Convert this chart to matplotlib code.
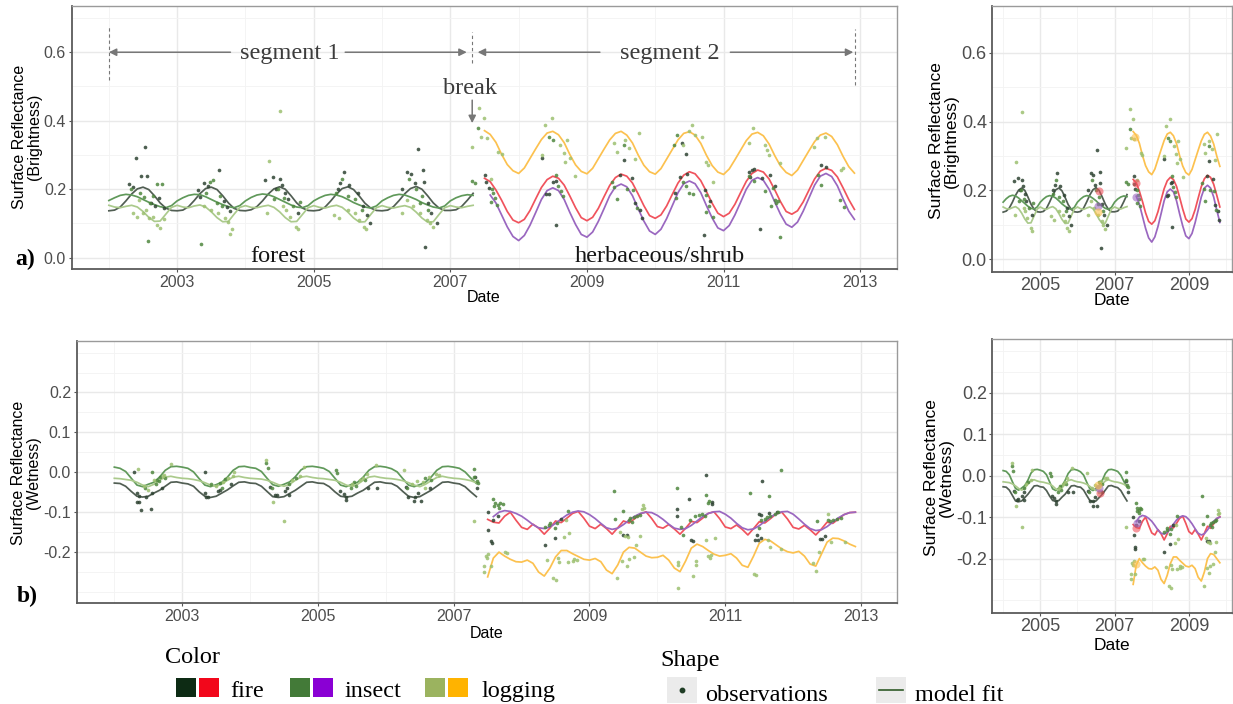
import numpy as np
import matplotlib
matplotlib.use("Agg")
import matplotlib.pyplot as plt
from matplotlib.patches import Rectangle
from matplotlib.lines import Line2D

# ------------------------------------------------------------------ data
SEG1_START = 2002.0          # first fitted date, segment 1 (monthly grid)
SEG2_START = 2007.5          # first fitted date, segment 2 (monthly grid)
BREAK_DATE = 2007.32
SEG2_END = 2012.92
INSET_START, INSET_END = 2004.0, 2009.9

# ---- Brightness, segment 1 (forest) : monthly model fit, Jan 2002 .. May 2007
FIRE_BRIGHT_1 = [
    0.137, 0.139, 0.148, 0.166, 0.186, 0.201, 0.206, 0.199, 0.181, 0.160, 0.145, 0.138,
    0.137, 0.139, 0.149, 0.167, 0.187, 0.202, 0.206, 0.199, 0.181, 0.160, 0.144, 0.138,
    0.137, 0.140, 0.149, 0.166, 0.186, 0.201, 0.207, 0.200, 0.181, 0.160, 0.145, 0.138,
    0.137, 0.139, 0.148, 0.166, 0.186, 0.202, 0.207, 0.199, 0.180, 0.159, 0.145, 0.138,
    0.137, 0.139, 0.149, 0.167, 0.187, 0.202, 0.208, 0.200, 0.181, 0.160, 0.145, 0.138,
    0.138, 0.140, 0.150, 0.168, 0.188]
INSECT_BRIGHT_1 = [
    0.167, 0.175, 0.182, 0.185, 0.183, 0.178, 0.170, 0.162, 0.155, 0.149, 0.146, 0.152,
    0.166, 0.175, 0.182, 0.185, 0.184, 0.178, 0.170, 0.162, 0.155, 0.149, 0.146, 0.152,
    0.166, 0.176, 0.183, 0.186, 0.184, 0.178, 0.170, 0.162, 0.154, 0.148, 0.146, 0.152,
    0.166, 0.175, 0.182, 0.185, 0.183, 0.178, 0.170, 0.161, 0.154, 0.148, 0.145, 0.151,
    0.166, 0.175, 0.182, 0.185, 0.183, 0.177, 0.170, 0.161, 0.154, 0.148, 0.145, 0.151,
    0.166, 0.175, 0.181, 0.184, 0.182]
LOGGING_BRIGHT_1 = [
    0.153, 0.148, 0.146, 0.150, 0.153, 0.148, 0.135, 0.118, 0.106, 0.107, 0.127, 0.147,
    0.153, 0.148, 0.146, 0.151, 0.154, 0.148, 0.134, 0.117, 0.105, 0.106, 0.127, 0.147,
    0.152, 0.147, 0.146, 0.150, 0.153, 0.147, 0.134, 0.117, 0.105, 0.106, 0.126, 0.146,
    0.152, 0.147, 0.145, 0.150, 0.153, 0.147, 0.133, 0.116, 0.104, 0.105, 0.126, 0.146,
    0.152, 0.147, 0.145, 0.149, 0.152, 0.147, 0.133, 0.116, 0.104, 0.105, 0.126, 0.146,
    0.152, 0.148, 0.146, 0.150, 0.153]

# ---- Brightness, segment 2 (herbaceous/shrub) : monthly model fit, Jul 2007 .. Dec 2012
FIRE_BRIGHT_2 = [
    0.232, 0.222, 0.198, 0.168, 0.135, 0.110,
    0.102, 0.112, 0.138, 0.172, 0.205, 0.228, 0.238, 0.232, 0.212, 0.180, 0.146, 0.117,
    0.108, 0.118, 0.144, 0.178, 0.211, 0.234, 0.244, 0.238, 0.218, 0.186, 0.152, 0.123,
    0.115, 0.125, 0.151, 0.185, 0.218, 0.241, 0.251, 0.245, 0.225, 0.193, 0.159, 0.130,
    0.120, 0.130, 0.156, 0.190, 0.223, 0.246, 0.256, 0.250, 0.230, 0.198, 0.164, 0.135,
    0.127, 0.137, 0.163, 0.197, 0.230, 0.253, 0.261, 0.255, 0.236, 0.204, 0.170, 0.141]
INSECT_BRIGHT_2 = [
    np.nan, 0.183, 0.160, 0.125, 0.090, 0.062,
    0.050, 0.065, 0.095, 0.132, 0.170, 0.196, 0.204, 0.196, 0.170, 0.132, 0.097, 0.068,
    0.060, 0.075, 0.106, 0.143, 0.181, 0.207, 0.215, 0.207, 0.181, 0.143, 0.107, 0.078,
    0.068, 0.083, 0.114, 0.152, 0.190, 0.216, 0.224, 0.216, 0.190, 0.152, 0.116, 0.087,
    0.079, 0.094, 0.125, 0.162, 0.200, 0.226, 0.234, 0.226, 0.200, 0.163, 0.127, 0.098,
    0.089, 0.104, 0.136, 0.174, 0.212, 0.238, 0.246, 0.237, 0.210, 0.172, 0.136, 0.112]
LOGGING_BRIGHT_2 = [
    0.371, 0.360, 0.337, 0.302, 0.272, 0.254,
    0.246, 0.262, 0.290, 0.318, 0.345, 0.364, 0.369, 0.359, 0.336, 0.301, 0.271, 0.252,
    0.245, 0.261, 0.289, 0.317, 0.344, 0.363, 0.369, 0.358, 0.335, 0.300, 0.270, 0.251,
    0.244, 0.260, 0.288, 0.316, 0.344, 0.363, 0.368, 0.358, 0.334, 0.299, 0.269, 0.250,
    0.243, 0.259, 0.286, 0.314, 0.342, 0.361, 0.366, 0.356, 0.332, 0.298, 0.268, 0.249,
    0.240, 0.256, 0.284, 0.312, 0.339, 0.358, 0.364, 0.354, 0.330, 0.296, 0.266, 0.247]

# ---- Wetness, segment 1
FIRE_WET_1 = [
    -0.027, -0.028, -0.035, -0.048, -0.060, -0.062, -0.060, -0.052, -0.045, -0.035, -0.025, -0.024,
    -0.027, -0.029, -0.035, -0.049, -0.060, -0.063, -0.060, -0.052, -0.044, -0.034, -0.025, -0.024,
    -0.027, -0.028, -0.035, -0.048, -0.061, -0.063, -0.061, -0.053, -0.045, -0.035, -0.025, -0.024,
    -0.027, -0.028, -0.036, -0.049, -0.060, -0.062, -0.060, -0.052, -0.045, -0.035, -0.025, -0.024,
    -0.027, -0.028, -0.035, -0.048, -0.060, -0.063, -0.061, -0.053, -0.045, -0.035, -0.025, -0.024,
    -0.027, -0.029, -0.036, -0.049, -0.061]
INSECT_WET_1 = [
    0.013, 0.010, 0.002, -0.015, -0.032, -0.036, -0.030, -0.025, -0.012, 0.005, 0.014, 0.015,
    0.013, 0.010, 0.001, -0.016, -0.032, -0.036, -0.031, -0.025, -0.012, 0.005, 0.014, 0.015,
    0.012, 0.010, 0.002, -0.015, -0.031, -0.035, -0.030, -0.024, -0.011, 0.006, 0.014, 0.015,
    0.013, 0.010, 0.002, -0.015, -0.032, -0.036, -0.030, -0.025, -0.012, 0.005, 0.014, 0.015,
    0.013, 0.009, 0.001, -0.016, -0.032, -0.036, -0.031, -0.025, -0.012, 0.005, 0.014, 0.015,
    0.013, 0.010, 0.001, -0.014, -0.028]
LOGGING_WET_1 = [
    -0.015, -0.016, -0.018, -0.020, -0.025, -0.032, -0.036, -0.030, -0.020, -0.012, -0.010, -0.013,
    -0.015, -0.016, -0.018, -0.021, -0.026, -0.032, -0.035, -0.029, -0.020, -0.012, -0.010, -0.013,
    -0.015, -0.016, -0.017, -0.020, -0.025, -0.031, -0.035, -0.030, -0.020, -0.012, -0.010, -0.013,
    -0.015, -0.016, -0.018, -0.020, -0.025, -0.032, -0.036, -0.030, -0.020, -0.012, -0.010, -0.013,
    -0.015, -0.016, -0.018, -0.021, -0.026, -0.032, -0.036, -0.030, -0.021, -0.013, -0.010, -0.013,
    -0.015, -0.016, -0.018, -0.021, -0.026]

# ---- Wetness, segment 2
FIRE_WET_2 = [
    -0.118, -0.125, -0.127, -0.110, -0.100, -0.120,
    -0.138, -0.143, -0.130, -0.140, -0.155, -0.140, -0.122, -0.126, -0.115, -0.103, -0.098, -0.115,
    -0.135, -0.141, -0.130, -0.141, -0.155, -0.139, -0.122, -0.127, -0.116, -0.104, -0.099, -0.116,
    -0.136, -0.140, -0.131, -0.142, -0.155, -0.140, -0.123, -0.126, -0.115, -0.103, -0.099, -0.116,
    -0.137, -0.141, -0.132, -0.143, -0.157, -0.141, -0.124, -0.127, -0.116, -0.104, -0.100, -0.117,
    -0.138, -0.142, -0.133, -0.144, -0.157, -0.142, -0.125, -0.128, -0.117, -0.106, -0.101, -0.100]
INSECT_WET_2 = [
    np.nan, -0.111, -0.100, -0.096, -0.098, -0.103,
    -0.110, -0.120, -0.131, -0.139, -0.141, -0.137, -0.128, -0.117, -0.107, -0.100, -0.097, -0.099,
    -0.106, -0.116, -0.128, -0.139, -0.143, -0.140, -0.131, -0.120, -0.110, -0.103, -0.100, -0.101,
    -0.108, -0.118, -0.130, -0.140, -0.143, -0.141, -0.133, -0.122, -0.111, -0.103, -0.099, -0.098,
    -0.105, -0.115, -0.128, -0.139, -0.144, -0.142, -0.134, -0.123, -0.112, -0.104, -0.099, -0.098,
    -0.105, -0.117, -0.130, -0.141, -0.146, -0.144, -0.136, -0.125, -0.114, -0.106, -0.101, -0.100]
LOGGING_WET_2 = [
    -0.262, -0.215, -0.200, -0.210, -0.218, -0.224,
    -0.225, -0.220, -0.228, -0.250, -0.260, -0.240, -0.212, -0.196, -0.196, -0.204, -0.211, -0.218,
    -0.220, -0.216, -0.224, -0.245, -0.254, -0.232, -0.200, -0.188, -0.190, -0.200, -0.210, -0.214,
    -0.213, -0.208, -0.220, -0.240, -0.249, -0.222, -0.190, -0.180, -0.186, -0.196, -0.205, -0.210,
    -0.208, -0.204, -0.215, -0.233, -0.238, -0.210, -0.178, -0.168, -0.172, -0.182, -0.192, -0.199,
    -0.202, -0.198, -0.210, -0.230, -0.235, -0.205, -0.175, -0.165, -0.166, -0.172, -0.180, -0.186]

# ---- observations (date, value)
OBS_BRIGHT_FIRE = [
    (2002.53, 0.322), (2002.39, 0.290), (2002.47, 0.240), (2002.56, 0.240), (2002.30, 0.214),
    (2002.74, 0.175), (2002.68, 0.151), (2002.80, 0.145), (2002.62, 0.160), (2002.35, 0.205),
    (2003.61, 0.256), (2003.40, 0.219), (2003.31, 0.198), (2003.34, 0.178), (2003.73, 0.149),
    (2003.68, 0.165), (2003.78, 0.135), (2003.45, 0.210),
    (2004.28, 0.227), (2004.40, 0.237), (2004.51, 0.229), (2004.53, 0.212), (2004.77, 0.130),
    (2004.58, 0.190), (2004.62, 0.170), (2004.45, 0.200),
    (2005.44, 0.251), (2005.39, 0.217), (2005.52, 0.212), (2005.65, 0.188), (2005.83, 0.100),
    (2005.72, 0.150), (2005.78, 0.125), (2005.35, 0.200),
    (2006.53, 0.317), (2006.60, 0.255), (2006.37, 0.251), (2006.42, 0.244), (2006.48, 0.217),
    (2006.62, 0.221), (2006.29, 0.200), (2006.80, 0.100), (2006.63, 0.032), (2006.72, 0.130),
    (2006.67, 0.160),
    (2007.51, 0.241), (2007.56, 0.204), (2007.52, 0.220),
    (2008.34, 0.290), (2008.51, 0.222), (2008.55, 0.225), (2008.44, 0.186), (2008.40, 0.185),
    (2008.54, 0.095),
    (2009.54, 0.285), (2009.48, 0.241), (2009.66, 0.232), (2009.70, 0.159), (2009.77, 0.140),
    (2009.80, 0.115),
    (2010.39, 0.334), (2010.45, 0.303), (2010.36, 0.237), (2010.46, 0.245), (2010.29, 0.188),
    (2010.73, 0.198), (2010.80, 0.165), (2010.72, 0.066),
    (2011.41, 0.256), (2011.45, 0.260), (2011.37, 0.250), (2011.39, 0.235), (2011.68, 0.241),
    (2011.57, 0.232), (2011.75, 0.210), (2011.54, 0.084),
    (2012.42, 0.271), (2012.50, 0.266)]
OBS_BRIGHT_INSECT = [
    (2002.70, 0.214), (2002.78, 0.214), (2002.51, 0.178), (2002.57, 0.050), (2002.45, 0.190),
    (2002.60, 0.160), (2002.65, 0.180), (2002.33, 0.200),
    (2003.48, 0.222), (2003.53, 0.227), (2003.62, 0.180), (2003.58, 0.160), (2003.66, 0.150),
    (2003.35, 0.040), (2003.42, 0.190),
    (2004.48, 0.200), (2004.80, 0.163), (2004.42, 0.170), (2004.56, 0.175), (2004.70, 0.150),
    (2005.42, 0.230), (2005.50, 0.180), (2005.60, 0.170), (2005.70, 0.140), (2005.33, 0.190),
    (2006.40, 0.230), (2006.50, 0.200), (2006.58, 0.180), (2006.68, 0.140), (2006.55, 0.160),
    (2007.32, 0.224), (2007.36, 0.219), (2007.41, 0.380), (2007.59, 0.163), (2007.63, 0.188),
    (2007.66, 0.175), (2007.61, 0.200), (2007.68, 0.155),
    (2008.55, 0.241), (2008.58, 0.210), (2008.62, 0.195), (2008.65, 0.180), (2008.45, 0.353),
    (2008.50, 0.345),
    (2009.54, 0.329), (2009.36, 0.222), (2009.40, 0.205), (2009.58, 0.200), (2009.68, 0.198),
    (2009.44, 0.170), (2009.73, 0.144),
    (2010.32, 0.358), (2010.28, 0.330), (2010.40, 0.220), (2010.45, 0.210), (2010.31, 0.175),
    (2010.50, 0.190), (2010.55, 0.185), (2010.75, 0.183), (2010.75, 0.134), (2010.78, 0.150),
    (2010.85, 0.120),
    (2011.38, 0.240), (2011.45, 0.225), (2011.60, 0.195), (2011.72, 0.203), (2011.75, 0.168),
    (2011.77, 0.160), (2011.70, 0.152), (2011.83, 0.061), (2011.80, 0.165),
    (2012.39, 0.241), (2012.42, 0.212), (2012.71, 0.168), (2012.77, 0.149)]
OBS_BRIGHT_LOGGING = [
    (2002.41, 0.120), (2002.50, 0.130), (2002.59, 0.115), (2002.64, 0.118), (2002.70, 0.096),
    (2002.75, 0.088), (2002.80, 0.112), (2002.44, 0.168), (2002.36, 0.130), (2002.55, 0.140),
    (2003.60, 0.130), (2003.70, 0.115), (2003.75, 0.103), (2003.80, 0.084), (2003.78, 0.068),
    (2003.50, 0.140), (2003.40, 0.150),
    (2004.50, 0.428), (2004.35, 0.282), (2004.31, 0.130), (2004.74, 0.090), (2004.77, 0.083),
    (2004.60, 0.140), (2004.65, 0.120), (2004.55, 0.150),
    (2005.29, 0.125), (2005.37, 0.115), (2005.73, 0.090), (2005.76, 0.083), (2005.60, 0.130),
    (2005.50, 0.140), (2005.66, 0.110),
    (2006.36, 0.168), (2006.29, 0.130), (2006.55, 0.130), (2006.66, 0.110), (2006.75, 0.089),
    (2006.70, 0.100), (2006.45, 0.150),
    (2007.31, 0.322), (2007.42, 0.436), (2007.49, 0.407), (2007.45, 0.353), (2007.53, 0.349),
    (2007.70, 0.310), (2007.75, 0.302), (2007.60, 0.230),
    (2008.49, 0.409), (2008.39, 0.387), (2008.61, 0.329), (2008.71, 0.344), (2008.66, 0.305),
    (2008.68, 0.280), (2008.75, 0.290), (2008.83, 0.239), (2008.34, 0.300),
    (2009.40, 0.336), (2009.55, 0.344), (2009.76, 0.363), (2009.44, 0.310), (2009.70, 0.288),
    (2009.62, 0.320),
    (2010.54, 0.387), (2010.58, 0.358), (2010.68, 0.353), (2010.40, 0.330), (2010.75, 0.280),
    (2010.77, 0.270), (2010.85, 0.222), (2010.50, 0.370),
    (2011.43, 0.380), (2011.61, 0.329), (2011.66, 0.300), (2011.37, 0.336), (2011.83, 0.276),
    (2011.63, 0.315),
    (2012.37, 0.349), (2012.48, 0.353), (2012.32, 0.324), (2012.75, 0.261), (2012.72, 0.256)]

OBS_WET_FIRE = [
    (2002.29, 0.000), (2002.34, -0.053), (2002.36, -0.060), (2002.34, -0.075), (2002.37, -0.075),
    (2002.39, -0.094), (2002.47, -0.063), (2002.54, -0.091), (2002.56, -0.051), (2002.70, -0.040),
    (2003.34, 0.000), (2003.33, -0.053), (2003.35, -0.062), (2003.38, -0.062), (2003.52, -0.048),
    (2003.55, -0.045), (2003.72, -0.030),
    (2004.29, -0.038), (2004.36, -0.058), (2004.40, -0.057), (2004.52, -0.048), (2004.55, -0.040),
    (2004.57, -0.058),
    (2005.32, -0.048), (2005.38, -0.055), (2005.41, -0.069), (2005.42, -0.062), (2005.74, -0.040),
    (2005.87, -0.040),
    (2006.29, -0.036), (2006.33, -0.062), (2006.43, -0.061), (2006.41, -0.073), (2006.52, -0.073),
    (2006.47, -0.052), (2006.65, -0.040),
    (2007.35, -0.040), (2007.31, -0.012), (2007.50, -0.100), (2007.51, -0.144), (2007.55, -0.173),
    (2007.56, -0.178), (2007.58, -0.120), (2007.65, -0.110),
    (2008.34, -0.183), (2008.49, -0.165), (2008.58, -0.118),
    (2009.49, -0.157), (2009.55, -0.157),
    (2010.29, -0.092), (2010.29, -0.110), (2010.46, -0.067), (2010.50, -0.170), (2010.53, -0.171),
    (2010.71, -0.007), (2010.80, -0.075), (2010.81, -0.080),
    (2011.54, -0.023), (2011.44, -0.170), (2011.48, -0.170), (2011.52, -0.165), (2011.50, -0.105),
    (2011.52, -0.106), (2011.65, -0.103), (2011.76, -0.100), (2011.47, -0.157),
    (2012.40, -0.168), (2012.42, -0.168), (2012.47, -0.160)]
OBS_WET_INSECT = [
    (2002.56, 0.000), (2002.45, -0.040), (2002.63, -0.019), (2002.68, -0.012), (2002.61, -0.030),
    (2002.66, -0.022), (2002.75, -0.015),
    (2003.42, -0.030), (2003.56, -0.028), (2003.63, -0.018), (2003.58, -0.040),
    (2004.24, 0.023), (2004.27, 0.010), (2004.33, -0.040), (2004.57, -0.030), (2004.67, -0.015),
    (2005.26, 0.006), (2005.28, -0.002), (2005.48, -0.040), (2005.53, -0.025), (2005.69, -0.020),
    (2005.56, -0.035),
    (2006.31, -0.040), (2006.58, -0.015), (2006.66, -0.020),
    (2007.30, 0.008), (2007.30, -0.011), (2007.34, -0.022), (2007.36, -0.028), (2007.58, -0.067),
    (2007.61, -0.078), (2007.65, -0.082), (2007.68, -0.077), (2007.72, -0.080), (2007.60, -0.085),
    (2007.66, -0.090),
    (2008.34, -0.136), (2008.40, -0.132), (2008.42, -0.127), (2008.52, -0.128), (2008.49, -0.140),
    (2008.69, -0.097),
    (2009.36, -0.048), (2009.50, -0.098), (2009.38, -0.117), (2009.58, -0.120), (2009.60, -0.115),
    (2009.65, -0.113), (2009.70, -0.110), (2009.74, -0.108), (2009.63, -0.125),
    (2010.29, -0.040), (2010.35, -0.137), (2010.38, -0.156), (2010.48, -0.120), (2010.55, -0.110),
    (2010.61, -0.108), (2010.66, -0.105), (2010.70, -0.110), (2010.71, -0.057), (2010.74, -0.077),
    (2010.76, -0.073),
    (2011.37, -0.053), (2011.65, -0.059), (2011.82, 0.005), (2011.52, -0.120), (2011.58, -0.117),
    (2011.61, -0.113), (2011.66, -0.110), (2011.73, -0.105), (2011.77, -0.100), (2011.50, -0.140),
    (2012.35, -0.121), (2012.51, -0.120), (2012.55, -0.122), (2012.59, -0.120), (2012.64, -0.117),
    (2012.71, -0.115)]
OBS_WET_LOGGING = [
    (2002.35, 0.008), (2002.43, -0.035), (2002.71, -0.010), (2002.73, -0.007), (2002.83, 0.020),
    (2002.50, -0.045), (2002.58, -0.020),
    (2003.50, -0.035), (2003.60, -0.025), (2003.68, -0.015), (2003.76, 0.000), (2003.75, -0.010),
    (2004.24, 0.030), (2004.34, -0.074), (2004.50, -0.123), (2004.62, -0.020), (2004.74, -0.010),
    (2004.79, 0.014),
    (2005.50, -0.030), (2005.62, -0.020), (2005.67, -0.015), (2005.86, 0.018), (2005.72, -0.005),
    (2006.26, 0.006), (2006.38, -0.030), (2006.46, -0.022), (2006.54, -0.025), (2006.64, -0.012),
    (2006.74, -0.005), (2006.79, -0.007), (2006.57, -0.040),
    (2007.30, -0.123), (2007.47, -0.210), (2007.51, -0.205), (2007.49, -0.215), (2007.45, -0.236),
    (2007.55, -0.236), (2007.44, -0.250), (2007.76, -0.200), (2007.78, -0.202),
    (2008.38, -0.221), (2008.46, -0.265), (2008.51, -0.270), (2008.53, -0.215), (2008.55, -0.225),
    (2008.63, -0.162), (2008.70, -0.152), (2008.68, -0.225), (2008.75, -0.222), (2008.77, -0.217),
    (2008.82, -0.220), (2008.65, -0.120),
    (2009.41, -0.265), (2009.45, -0.150), (2009.52, -0.160), (2009.57, -0.162), (2009.79, -0.082),
    (2009.80, -0.090), (2009.78, -0.093), (2009.74, -0.160), (2009.69, -0.183), (2009.48, -0.222),
    (2009.58, -0.218), (2009.65, -0.213), (2009.55, -0.235),
    (2010.30, -0.225), (2010.31, -0.232), (2010.52, -0.259), (2010.57, -0.222), (2010.57, -0.232),
    (2010.72, -0.170), (2010.74, -0.210), (2010.79, -0.207), (2010.77, -0.215), (2010.85, -0.165),
    (2010.30, -0.290),
    (2011.63, -0.170), (2011.66, -0.187), (2011.82, -0.193), (2011.42, -0.255), (2011.46, -0.257),
    (2012.38, -0.200), (2012.29, -0.228), (2012.33, -0.248), (2012.56, -0.175), (2012.76, -0.175),
    (2012.52, -0.105)]

# highlighted observations in the zoomed panels: (date, value)
HILITE_BRIGHT = {"fire": [(2006.59, 0.198), (2007.58, 0.222)],
                 "insect": [(2006.54, 0.155), (2007.58, 0.181)],
                 "logging": [(2006.56, 0.136), (2007.55, 0.356)]}
HILITE_WET = {"fire": [(2006.60, -0.042), (2007.58, -0.126)],
              "insect": [(2006.58, -0.030), (2007.60, -0.114)],
              "logging": [(2006.56, -0.022), (2007.58, -0.212)]}

LEGEND_CLASSES = ["fire", "insect", "logging"]

# ------------------------------------------------------------------ style
W, H = 1233, 704
SANS = "Liberation Sans"
SERIF = "Liberation Serif"
TICK_COL = "#4d4d4d"
SEG1_COL = {"fire": "#515e53", "insect": "#60995a", "logging": "#abca8c"}
SEG2_COL = {"fire": "#f0535d", "insect": "#9a67c0", "logging": "#fcc14f"}
OBS_COL = {"fire": "#2e4332", "insect": "#4f873e", "logging": "#9cc070"}
KEY_COL = {"fire": ("#0d2b14", "#f2071b"), "insect": ("#437a38", "#8a00d4"),
           "logging": ("#9bb35f", "#ffb300")}
ANN_COL = "#3c3c3c"
ARROW_COL = "#777777"

fig = plt.figure(figsize=(W / 100, H / 100), dpi=100)


def rect(x0, y0, x1, y1):
    return [x0 / W, 1 - y1 / H, (x1 - x0) / W, (y1 - y0) / H]


def fx(px):
    return px / W


def fy(py):
    return 1 - py / H


def style_axes(ax, xlim, ylim, xticks, xgrid, yticks, ygrid, fs, pad=1.8):
    ax.set_xlim(*xlim)
    ax.set_ylim(*ylim)
    for g in xgrid:
        major = any(abs(g - t) < 1e-6 for t in xticks)
        ax.axvline(g, color="#e9e9e9" if major else "#f3f3f3",
                   lw=1.0 if major else 0.6, zorder=0)
    for g in ygrid:
        major = any(abs(g - t) < 1e-6 for t in yticks)
        ax.axhline(g, color="#e9e9e9" if major else "#f3f3f3",
                   lw=1.0 if major else 0.6, zorder=0)
    ax.set_xticks(xticks)
    ax.set_xticklabels([str(t) for t in xticks], fontfamily=SANS)
    ax.set_yticks(yticks)
    ax.set_yticklabels([f"{t:.1f}" for t in yticks], fontfamily=SANS)
    ax.tick_params(axis="both", length=2.5, width=0.8, color="#555555",
                   labelcolor=TICK_COL, labelsize=fs, pad=pad)
    for s in ("left", "bottom"):
        ax.spines[s].set_color("#5a5a5a")
        ax.spines[s].set_linewidth(1.3)
    for s in ("top", "right"):
        ax.spines[s].set_color("#9a9a9a")
        ax.spines[s].set_linewidth(1.0)


def draw_series(ax, seg1, seg2, obs, xmin=None, xmax=None, s=7):
    d1 = SEG1_START + np.arange(len(seg1["fire"])) / 12.0
    d2 = SEG2_START + np.arange(len(seg2["fire"])) / 12.0
    for cls in LEGEND_CLASSES:
        for d, v, col in ((d1, seg1[cls], SEG1_COL[cls]), (d2, seg2[cls], SEG2_COL[cls])):
            v = np.array(v, dtype=float)
            m = np.ones_like(d, dtype=bool)
            if xmin is not None:
                m &= (d >= xmin - 1e-9) & (d <= xmax + 1e-9)
            ax.plot(d[m], v[m], color=col, lw=1.25, zorder=2, solid_joinstyle="round")
    for cls in LEGEND_CLASSES:
        pts = np.array(obs[cls])
        m = np.ones(len(pts), dtype=bool)
        if xmin is not None:
            m &= (pts[:, 0] >= xmin - 0.05) & (pts[:, 0] <= xmax + 0.05)
        ax.scatter(pts[m, 0], pts[m, 1], s=s, color=OBS_COL[cls], alpha=0.85,
                   linewidths=0, zorder=3)


BRIGHT_1 = {"fire": FIRE_BRIGHT_1, "insect": INSECT_BRIGHT_1, "logging": LOGGING_BRIGHT_1}
BRIGHT_2 = {"fire": FIRE_BRIGHT_2, "insect": INSECT_BRIGHT_2, "logging": LOGGING_BRIGHT_2}
WET_1 = {"fire": FIRE_WET_1, "insect": INSECT_WET_1, "logging": LOGGING_WET_1}
WET_2 = {"fire": FIRE_WET_2, "insect": INSECT_WET_2, "logging": LOGGING_WET_2}
OBS_B = {"fire": OBS_BRIGHT_FIRE, "insect": OBS_BRIGHT_INSECT, "logging": OBS_BRIGHT_LOGGING}
OBS_W = {"fire": OBS_WET_FIRE, "insect": OBS_WET_INSECT, "logging": OBS_WET_LOGGING}

MAIN_XT = [2003, 2005, 2007, 2009, 2011, 2013]
MAIN_XG = list(range(2002, 2014))
INS_XT = [2005, 2007, 2009]
INS_XG = list(range(2004, 2011))
B_YT = [0.0, 0.2, 0.4, 0.6]
B_YG = [0.0, 0.1, 0.2, 0.3, 0.4, 0.5, 0.6, 0.7]
W_YT = [-0.2, -0.1, 0.0, 0.1, 0.2]
W_YG = [-0.3, -0.25, -0.2, -0.15, -0.1, -0.05, 0.0, 0.05, 0.1, 0.15, 0.2, 0.25, 0.3]

# ---------------- panel a (main)
axA = fig.add_axes(rect(72, 6, 897, 269))
style_axes(axA, (2001.46, 2013.54), (-0.033, 0.735), MAIN_XT, MAIN_XG, B_YT, B_YG, 11.5)
draw_series(axA, BRIGHT_1, BRIGHT_2, OBS_B)

# annotations
dash = dict(color=ARROW_COL, lw=0.8, ls=(0, (3, 2.5)), zorder=4)
axA.plot([SEG1_START, SEG1_START], [0.52, 0.68], **dash)
axA.plot([BREAK_DATE, BREAK_DATE], [0.568, 0.658], **dash)
axA.plot([SEG2_END, SEG2_END], [0.505, 0.667], **dash)
arw = dict(arrowstyle="-|>", color=ARROW_COL, lw=1.1, mutation_scale=11, shrinkA=0, shrinkB=0)
axA.annotate("", xy=(SEG1_START, 0.6), xytext=(2003.78, 0.6), arrowprops=arw)
axA.annotate("", xy=(2007.24, 0.6), xytext=(2005.46, 0.6), arrowprops=arw)
axA.annotate("", xy=(2007.40, 0.6), xytext=(2009.19, 0.6), arrowprops=arw)
axA.annotate("", xy=(2012.90, 0.6), xytext=(2011.10, 0.6), arrowprops=arw)
axA.annotate("", xy=(BREAK_DATE, 0.393), xytext=(BREAK_DATE, 0.46), arrowprops=arw)
tk = dict(fontfamily=SERIF, fontsize=17.5, ha="center", va="baseline", zorder=5)
axA.text(2004.65, 0.579, "segment 1", color=ANN_COL, **tk)
axA.text(2010.22, 0.579, "segment 2", color=ANN_COL, **tk)
axA.text(2007.29, 0.477, "break", color=ANN_COL, **tk)
axA.text(2004.48, -0.014, "forest", color="#151515", **tk)
axA.text(2010.07, -0.014, "herbaceous/shrub", color="#151515", **tk)

# ---------------- panel a (inset)
axA2 = fig.add_axes(rect(992, 6, 1232, 272))
style_axes(axA2, (2003.70, 2010.16), (-0.037, 0.736), INS_XT, INS_XG, B_YT, B_YG, 13, pad=1.2)
draw_series(axA2, BRIGHT_1, BRIGHT_2, OBS_B, INSET_START, INSET_END)
for cls in LEGEND_CLASSES:
    p = np.array(HILITE_BRIGHT[cls])
    axA2.scatter(p[:, 0], p[:, 1], s=34, color=SEG2_COL[cls], alpha=0.6, linewidths=0, zorder=4)

# ---------------- panel b (main)
axB = fig.add_axes(rect(77, 341, 897, 603))
style_axes(axB, (2001.45, 2013.53), (-0.3275, 0.329), MAIN_XT, MAIN_XG, W_YT, W_YG, 11.5)
draw_series(axB, WET_1, WET_2, OBS_W)

# ---------------- panel b (inset)
axB2 = fig.add_axes(rect(992, 339, 1232, 613))
style_axes(axB2, (2003.70, 2010.16), (-0.331, 0.329), INS_XT, INS_XG, W_YT, W_YG, 13, pad=1.2)
draw_series(axB2, WET_1, WET_2, OBS_W, INSET_START, INSET_END)
for cls in LEGEND_CLASSES:
    p = np.array(HILITE_WET[cls])
    axB2.scatter(p[:, 0], p[:, 1], s=34, color=SEG2_COL[cls], alpha=0.6, linewidths=0, zorder=4)

# ---------------- axis titles
ylab = dict(fontfamily=SANS, fontsize=11.5, rotation=90, ha="center", va="center",
            multialignment="center", linespacing=1.05, color="black")
fig.text(fx(27), fy(137), "Surface Reflectance\n(Brightness)", **ylab)
fig.text(fx(26), fy(473), "Surface Reflectance\n(Wetness)", **ylab)
ylab_i = dict(ylab, fontsize=12.5)
fig.text(fx(944), fy(141), "Surface Reflectance\n(Brightness)", **ylab_i)
fig.text(fx(939), fy(478), "Surface Reflectance\n(Wetness)", **ylab_i)
xlab = dict(fontfamily=SANS, fontsize=11.5, ha="center", va="center", color="black")
fig.text(fx(484), fy(297), "Date", **xlab)
fig.text(fx(487), fy(634), "Date", **xlab)
xlab_i = dict(xlab, fontsize=12.5)
fig.text(fx(1112), fy(301), "Date", **xlab_i)
fig.text(fx(1112), fy(645), "Date", **xlab_i)

pl = dict(fontfamily=SERIF, fontsize=17, fontweight="bold", ha="center", va="baseline")
fig.text(fx(25), fy(265), "a)", **pl)
fig.text(fx(27), fy(602), "b)", **pl)

# ---------------- legend
lg = dict(fontfamily=SERIF, fontsize=17.5, ha="left", va="baseline", color="black")
fig.text(fx(165), fy(663), "Color", **lg)
sw_x = [176, 290, 425]
txt_x = [230, 345, 482]
for cls, x0, tx in zip(LEGEND_CLASSES, sw_x, txt_x):
    c1, c2 = KEY_COL[cls]
    fig.add_artist(Rectangle((fx(x0), fy(697)), 20 / W, 19 / H, transform=fig.transFigure,
                             facecolor=c1, edgecolor="none"))
    fig.add_artist(Rectangle((fx(x0 + 23), fy(697)), 20 / W, 19 / H, transform=fig.transFigure,
                             facecolor=c2, edgecolor="none"))
    fig.text(fx(tx), fy(697), cls, **lg)

fig.text(fx(660), fy(666), "Shape", **lg)
for bx in (667, 876):
    fig.add_artist(Rectangle((fx(bx), fy(703)), 30 / W, 26 / H, transform=fig.transFigure,
                             facecolor="#ebebeb", edgecolor="none"))
fig.add_artist(Line2D([fx(682)], [fy(690)], transform=fig.transFigure, marker="o",
                      markersize=3.2, color="#1f3d25", linestyle="none"))
fig.add_artist(Line2D([fx(879), fx(903)], [fy(690), fy(690)], transform=fig.transFigure,
                      color="#2f5a28", lw=1.2))
fig.text(fx(705), fy(701), "observations", **lg)
fig.text(fx(915), fy(701), "model fit", **lg)

fig.savefig("out.png", dpi=100)
